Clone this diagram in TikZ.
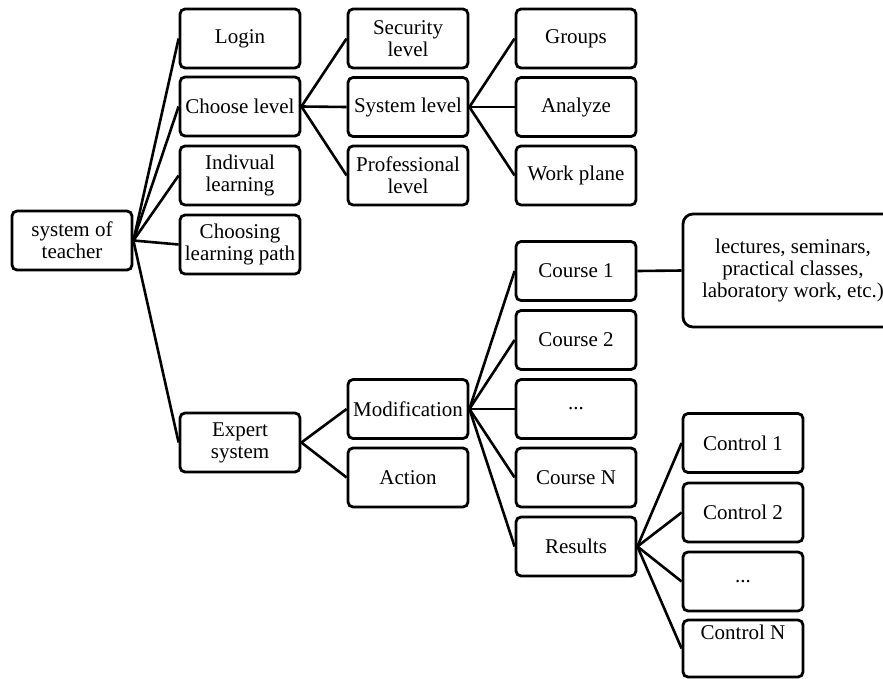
\documentclass[tikz,border=0pt]{standalone}
\usepackage{fontspec}
\setmainfont{Liberation Serif}
\begin{document}
\begin{tikzpicture}[x=1pt,y=-1pt,
  box/.style={draw,line width=2.8pt,rounded corners=5pt,minimum width=120pt,minimum height=59pt,inner sep=0pt,align=center,font=\fontsize{21}{22}\selectfont},
  conn/.style={line width=2.6pt}]
\useasboundingbox (0,0) rectangle (883,678);
% root
\node[box] (teacher) at (72,240.5) {system of\\teacher};
% column 1
\node[box] (login) at (240,38.5) {Login};
\node[box] (choose) at (240,106.5) {Choose level};
\node[box] (indiv) at (240,175.5) {Indivual\\learning};
\node[box] (path) at (240,244.5) {Choosing\\learning path};
\node[box] (expert) at (240,442.5) {Expert\\system};
% column 2
\node[box] (security) at (408,38.5) {Security\\level};
\node[box] (syslevel) at (408,107) {System level};
\node[box] (prof) at (408,175.5) {Professional\\level};
\node[box] (modif) at (408,409) {Modification};
\node[box] (action) at (408,477.5) {Action};
% column 3
\node[box] (groups) at (576,38.5) {Groups};
\node[box] (analyze) at (576,107) {Analyze};
\node[box] (work) at (576,175.5) {Work plane};
\node[box] (c1) at (576,271) {Course 1};
\node[box] (c2) at (576,340) {Course 2};
\node[box] (cdots) at (576,409) {...};
\node[box] (cn) at (576,477.5) {Course N};
\node[box] (results) at (576,546.5) {Results};
% column 4
\node[box] (k1) at (743,443) {Control 1};
\node[box] (k2) at (743,512.5) {Control 2};
\node[box] (kdots) at (743,581.5) {...};
\node[box,minimum height=57pt,text height=14pt,text depth=33pt] (kn) at (743,648.5) {Control N};
\node[box,rounded corners=10pt,minimum width=220pt,minimum height=113pt] (lect) at (793,270.5) {lectures, seminars,\\practical classes,\\laboratory work, etc.)};
% connectors
\foreach \t in {login,choose,indiv,path,expert} \draw[conn] (teacher.east) -- (\t.west);
\foreach \t in {security,syslevel,prof} \draw[conn] (choose.east) -- (\t.west);
\foreach \t in {groups,analyze,work} \draw[conn] (syslevel.east) -- (\t.west);
\foreach \t in {modif,action} \draw[conn] (expert.east) -- (\t.west);
\foreach \t in {c1,c2,cdots,cn,results} \draw[conn] (modif.east) -- (\t.west);
\foreach \t in {k1,k2,kdots,kn} \draw[conn] (results.east) -- (\t.west);
\draw[conn] (c1.east) -- (lect.west);
\end{tikzpicture}
\end{document}
